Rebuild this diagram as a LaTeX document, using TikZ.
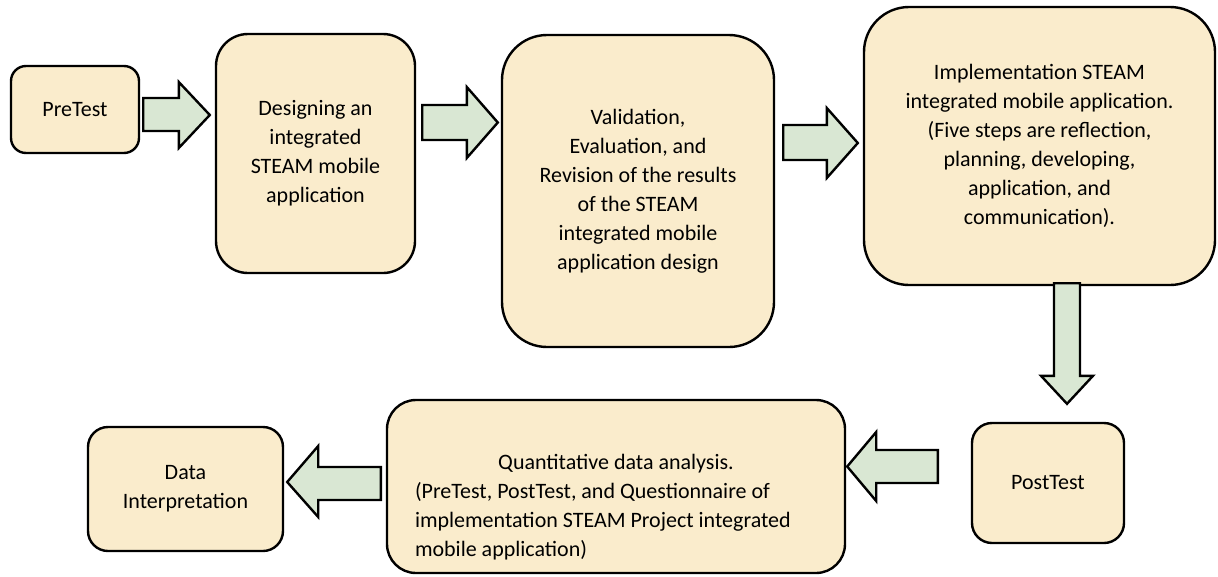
\documentclass[tikz,border=0pt]{standalone}
\usepackage{fontspec}
\setmainfont{Carlito}
\usetikzlibrary{calc}
\definecolor{boxfill}{RGB}{250,236,204}
\definecolor{arrowfill}{RGB}{217,231,211}
\begin{document}
\begin{tikzpicture}[x=1pt,y=-1pt,
  stage/.style={draw=black, line width=2.4pt, fill=boxfill, inner sep=0pt,
    align=center, font=\fontsize{22}{29}\selectfont},
  stagetext/.style={inner sep=0pt, font=\fontsize{22}{29}\selectfont},
  blockarrow/.style={draw=black, line width=2.4pt, fill=arrowfill, line join=miter}]
\useasboundingbox (0,0) rectangle (1218,576);

% stages
\node[stage, minimum width=128pt, minimum height=87pt, rounded corners=15pt]
  (pre) at (75,109.5) {PreTest};
\node[stage, minimum width=199pt, minimum height=239pt, rounded corners=32pt]
  (design) at (315.5,153.5) {Designing an\\integrated\\STEAM mobile\\application};
\node[stage, minimum width=272pt, minimum height=312pt, rounded corners=45pt]
  (valid) at (638,191) {Validation,\\Evaluation, and\\Revision of the results\\of the STEAM\\integrated mobile\\application design};
\node[stage, minimum width=351pt, minimum height=278pt, rounded corners=45pt]
  (impl) at (1039.5,146) {Implementation STEAM\\integrated mobile application.\\(Five steps are reflection,\\planning, developing,\\application, and\\communication).};
\node[stage, minimum width=152pt, minimum height=120pt, rounded corners=20pt]
  (post) at (1048,483) {PostTest};
\node[stage, minimum width=458pt, minimum height=173pt, rounded corners=29pt]
  (quant) at (616,486.5) {};
\node[stagetext, text width=402pt, align=flush left] (quanttext) at (616,507)
  {\makebox[\linewidth][c]{Quantitative data analysis.}\\(PreTest, PostTest, and Questionnaire of\\implementation STEAM Project integrated\\mobile application)};
\node[stage, minimum width=195pt, minimum height=124pt, rounded corners=20pt]
  (data) at (185.5,489) {Data\\Interpretation};

% block arrows between the stages
\draw[blockarrow] let \p1=(pre.east), \p2=(design.west) in
  (\x1+3pt,-98pt) -- (\x2-36pt,-98pt) -- (\x2-36pt,-82pt) -- (\x2-5pt,-115pt)
  -- (\x2-36pt,-148pt) -- (\x2-36pt,-131pt) -- (\x1+3pt,-131pt) -- cycle;
\draw[blockarrow] let \p1=(design.east), \p2=(valid.west) in
  (\x1+6pt,-105pt) -- (\x2-34pt,-105pt) -- (\x2-34pt,-87pt) -- (\x2-3pt,-122.5pt)
  -- (\x2-34pt,-158pt) -- (\x2-34pt,-140pt) -- (\x1+6pt,-140pt) -- cycle;
\draw[blockarrow] let \p1=(valid.east), \p2=(impl.west) in
  (\x1+8pt,-125pt) -- (\x2-36pt,-125pt) -- (\x2-36pt,-108pt) -- (\x2-5pt,-143pt)
  -- (\x2-36pt,-178pt) -- (\x2-36pt,-160pt) -- (\x1+8pt,-160pt) -- cycle;
\draw[blockarrow] let \p1=(impl.south), \p2=(post.north) in
  (1054pt,\y1+3pt) -- (1054pt,\y2+46pt) -- (1041pt,\y2+46pt) -- (1067pt,\y2+18pt)
  -- (1093pt,\y2+46pt) -- (1080pt,\y2+46pt) -- (1080pt,\y1+3pt) -- cycle;
\draw[blockarrow] let \p1=(post.west), \p2=(quant.east) in
  (\x1-33pt,-450pt) -- (\x2+30pt,-450pt) -- (\x2+30pt,-432pt) -- (\x2+1pt,-466.5pt)
  -- (\x2+30pt,-501pt) -- (\x2+30pt,-483pt) -- (\x1-33pt,-483pt) -- cycle;
\draw[blockarrow] let \p1=(quant.west), \p2=(data.east) in
  (\x1-5pt,-467pt) -- (\x2+34pt,-467pt) -- (\x2+34pt,-446pt) -- (\x2+3pt,-482pt)
  -- (\x2+34pt,-517pt) -- (\x2+34pt,-500pt) -- (\x1-5pt,-500pt) -- cycle;
\end{tikzpicture}
\end{document}
